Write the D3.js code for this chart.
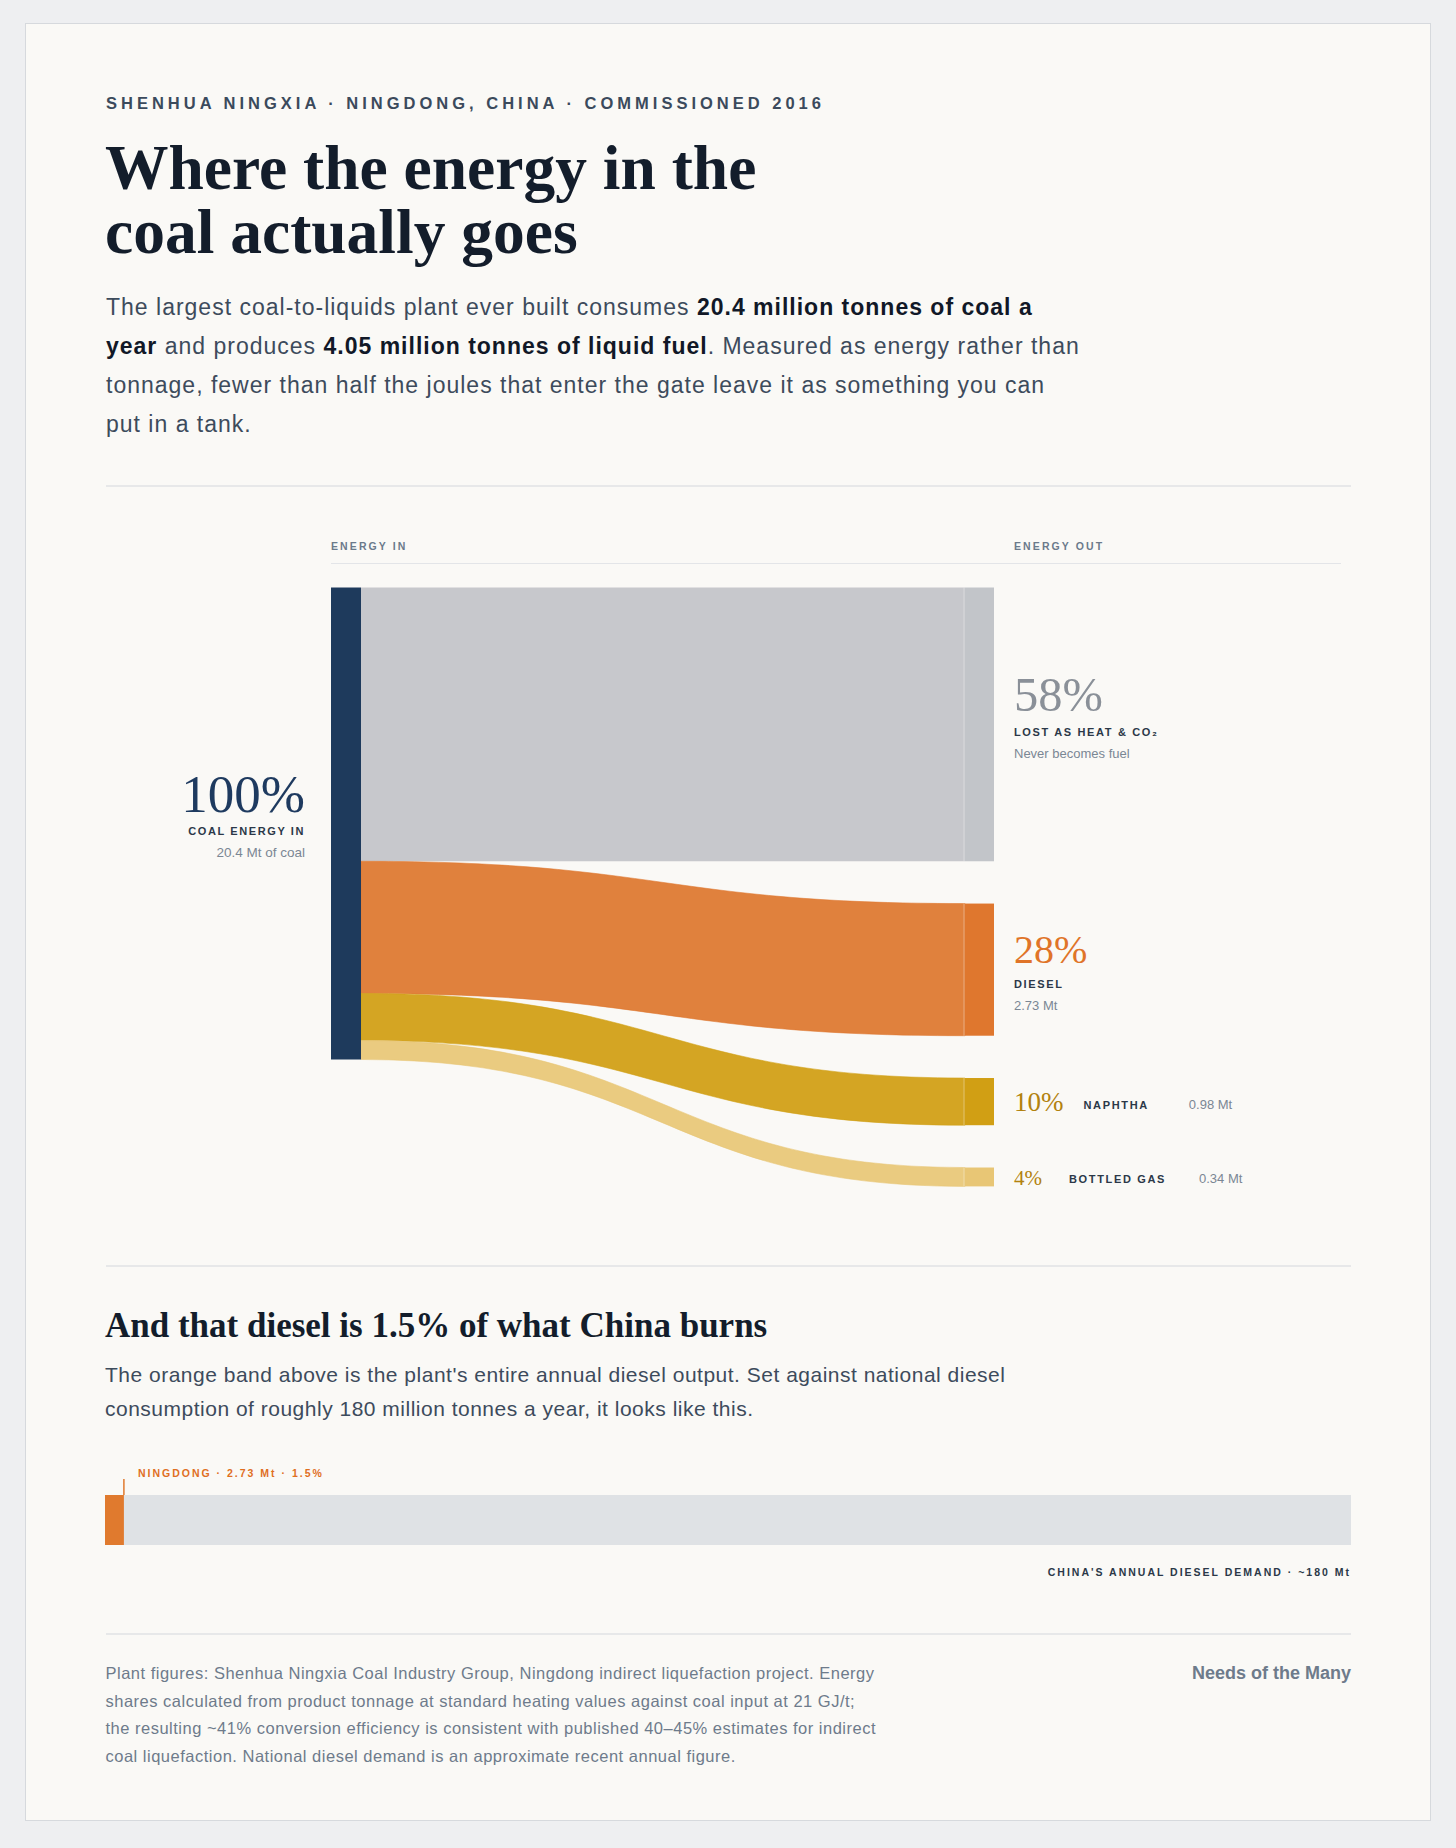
<!DOCTYPE html>
<html>
<head>
<meta charset="utf-8">
<script src="https://cdn.jsdelivr.net/npm/d3@7"></script>
<style>
  html, body { margin: 0; padding: 0; background: #eeeff1; }
  svg { display: block; }
  .sans { font-family: "Liberation Sans", Arial, sans-serif; }
  .serif { font-family: "Liberation Serif", "Times New Roman", serif; }
  .caps { font-weight: 700; letter-spacing: 2px; }
</style>
</head>
<body>
<svg id="chart"></svg>
<script>
let width = 1456;
let height = 1848;

// data
let flowKeys = ["lost", "diesel", "naphtha", "gas"];
let flowLabels = ["LOST AS HEAT & CO\u2082", "DIESEL", "NAPHTHA", "BOTTLED GAS"];
let flowShares = [58, 28, 10, 4];
let flowNotes = ["Never becomes fuel", "2.73 Mt", "0.98 Mt", "0.34 Mt"];
let coalShare = 100;
let coalNote = "20.4 Mt of coal";
let plantDiesel = 2.73;
let chinaDiesel = 180;

let flowColors = ["#c7c8cc", "#e0813d", "#d4a523", "#eacb80"];
let nodeColors = ["#c2c5c9", "#df772e", "#d19f14", "#e8c675"];
let pctColors = ["#8a9098", "#e07428", "#b2820e", "#b2820e"];
let pctSizes = [48.5, 40, 27, 21];

let introLines = [
  [["The largest coal-to-liquids plant ever built consumes ", 0], ["20.4 million tonnes of coal a", 1]],
  [["year", 1], [" and produces ", 0], ["4.05 million tonnes of liquid fuel", 1], [". Measured as energy rather than", 0]],
  [["tonnage, fewer than half the joules that enter the gate leave it as something you can", 0]],
  [["put in a tank.", 0]]
];
let compareLines = [
  "The orange band above is the plant's entire annual diesel output. Set against national diesel",
  "consumption of roughly 180 million tonnes a year, it looks like this."
];
let noteLines = [
  "Plant figures: Shenhua Ningxia Coal Industry Group, Ningdong indirect liquefaction project. Energy",
  "shares calculated from product tonnage at standard heating values against coal input at 21 GJ/t;",
  "the resulting ~41% conversion efficiency is consistent with published 40\u201345% estimates for indirect",
  "coal liquefaction. National diesel demand is an approximate recent annual figure."
];

let margin = { left: 106, right: 1351 };

let svg = d3.select("#chart")
  .attr("width", width)
  .attr("height", height)
  .attr("viewBox", `0 0 ${width} ${height}`);

// card
svg.append("rect")
  .attr("x", 25.5).attr("y", 23.5)
  .attr("width", 1405).attr("height", 1797)
  .attr("fill", "#faf9f6")
  .attr("stroke", "#d6d9dd");

// header
svg.append("text")
  .attr("class", "sans caps")
  .attr("x", margin.left).attr("y", 109)
  .style("font-size", "16.5px")
  .style("letter-spacing", "4px")
  .attr("fill", "#3b4a5c")
  .text("SHENHUA NINGXIA \u00b7 NINGDONG, CHINA \u00b7 COMMISSIONED 2016");

let title = svg.append("text")
  .attr("class", "serif")
  .attr("fill", "#131d2b")
  .style("font-size", "63.5px")
  .style("font-weight", 700);
["Where the energy in the", "coal actually goes"].forEach((t, i) => {
  title.append("tspan").attr("x", margin.left - 1).attr("y", 189 + i * 64).text(t);
});

introLines.forEach((line, i) => {
  let t = svg.append("text")
    .attr("class", "sans")
    .attr("x", margin.left).attr("y", 315 + i * 39)
    .style("font-size", "23px")
    .style("letter-spacing", "1px")
    .attr("fill", "#3d4b5c");
  line.forEach(([s, b]) => {
    t.append("tspan")
      .style("font-weight", b ? 700 : 400)
      .attr("fill", b ? "#111827" : "#3d4b5c")
      .text(s);
  });
});

function rule(y) {
  svg.append("line")
    .attr("x1", margin.left).attr("x2", margin.right)
    .attr("y1", y).attr("y2", y)
    .attr("stroke", "#d3d7dc").attr("stroke-width", 1.2);
}
rule(486);
rule(1266);
rule(1634);

// ---- sankey ----
let inX = 331, nodeW = 30, outX = 965, pad = 42.3;
let nodeTop = 587.5;

let h = d3.scaleLinear().domain([0, 100]).range([0, 472]);

let cum = d3.cumsum(flowShares);
let flows = flowShares.map((v, i) => {
  let start = i ? cum[i - 1] : 0;
  return {
    key: flowKeys[i],
    i: i,
    value: v,
    sy0: nodeTop + h(start),
    sy1: nodeTop + h(start + v),
    ty0: nodeTop + h(start) + i * pad,
    ty1: nodeTop + h(start + v) + i * pad
  };
});

svg.append("text")
  .attr("class", "sans caps")
  .attr("x", inX).attr("y", 550)
  .style("font-size", "10.5px").style("letter-spacing", "2.1px")
  .attr("fill", "#6b7a8b")
  .text("ENERGY IN");
svg.append("text")
  .attr("class", "sans caps")
  .attr("x", 1014).attr("y", 550)
  .style("font-size", "10.5px").style("letter-spacing", "2.1px")
  .attr("fill", "#6b7a8b")
  .text("ENERGY OUT");
svg.append("line")
  .attr("x1", inX).attr("x2", 1341)
  .attr("y1", 563.5).attr("y2", 563.5)
  .attr("stroke", "#e3e5e8");

let x0 = inX + nodeW, x1 = outX;
let xm = (x0 + x1) / 2;
function band(d) {
  let p = d3.path();
  p.moveTo(x0, d.sy0);
  p.bezierCurveTo(xm, d.sy0, xm, d.ty0, x1, d.ty0);
  p.lineTo(x1, d.ty1);
  p.bezierCurveTo(xm, d.ty1, xm, d.sy1, x0, d.sy1);
  p.closePath();
  return p.toString();
}

svg.append("g")
  .selectAll("path")
  .data(flows)
  .join("path")
  .attr("d", band)
  .attr("fill", d => flowColors[d.i])
  .attr("stroke", d => d.i ? nodeColors[d.i] : "none")
  .attr("stroke-width", 0.8)
  .attr("stroke-opacity", 0.7);

svg.append("rect")
  .attr("x", inX).attr("y", nodeTop)
  .attr("width", nodeW).attr("height", h(coalShare))
  .attr("fill", "#1e3a5c");

svg.append("g")
  .selectAll("rect")
  .data(flows)
  .join("rect")
  .attr("x", outX).attr("y", d => d.ty0)
  .attr("width", nodeW - 1).attr("height", d => d.ty1 - d.ty0)
  .attr("fill", d => nodeColors[d.i]);
svg.append("g")
  .selectAll("line")
  .data(flows)
  .join("line")
  .attr("x1", outX - 1).attr("x2", outX - 1)
  .attr("y1", d => d.ty0).attr("y2", d => d.ty1)
  .attr("stroke", "#ffffff").attr("stroke-opacity", 0.35);

// input label
let inCy = nodeTop + h(coalShare) / 2;
svg.append("text")
  .attr("class", "serif")
  .attr("x", 305).attr("y", inCy - 12)
  .attr("text-anchor", "end")
  .style("font-size", "53px")
  .attr("fill", "#1e3a5f")
  .text(coalShare + "%");
svg.append("text")
  .attr("class", "sans caps")
  .attr("x", 305).attr("y", inCy + 11)
  .attr("text-anchor", "end")
  .style("font-size", "11px").style("letter-spacing", "1.6px")
  .attr("fill", "#2b3848")
  .text("COAL ENERGY IN");
svg.append("text")
  .attr("class", "sans")
  .attr("x", 305).attr("y", inCy + 33)
  .attr("text-anchor", "end")
  .style("font-size", "13.5px")
  .attr("fill", "#7b8794")
  .text(coalNote);

// output labels
let labX = 1014;
flows.forEach((d, i) => {
  let cy = (d.ty0 + d.ty1) / 2;
  if (i < 2) {
    let base = cy + (i === 0 ? -13 : -7);
    svg.append("text")
      .attr("class", "serif")
      .attr("x", labX).attr("y", base)
      .style("font-size", pctSizes[i] + "px")
      .attr("fill", pctColors[i])
      .text(d.value + "%");
    svg.append("text")
      .attr("class", "sans caps")
      .attr("x", labX).attr("y", base + 25)
      .style("font-size", "11px").style("letter-spacing", "1.65px")
      .attr("fill", "#2b3848")
      .text(flowLabels[i]);
    svg.append("text")
      .attr("class", "sans")
      .attr("x", labX).attr("y", base + 47)
      .style("font-size", "13px")
      .attr("fill", "#7b8794")
      .text(flowNotes[i]);
  } else {
    let base = cy + (i === 2 ? 9 : 8);
    let pct = svg.append("text")
      .attr("class", "serif")
      .attr("x", labX).attr("y", base)
      .style("font-size", pctSizes[i] + "px")
      .attr("fill", pctColors[i])
      .text(d.value + "%");
    let pw = pct.node().getComputedTextLength();
    let lab = svg.append("text")
      .attr("class", "sans caps")
      .attr("x", labX + pw + (i === 2 ? 20 : 27)).attr("y", base - 2)
      .style("font-size", "11px").style("letter-spacing", "1.65px")
      .attr("fill", "#2b3848")
      .text(flowLabels[i]);
    let lx = +lab.attr("x") + lab.node().getComputedTextLength();
    svg.append("text")
      .attr("class", "sans")
      .attr("x", lx + (i === 2 ? 40 : 33)).attr("y", base - 2)
      .style("font-size", "13px")
      .attr("fill", "#7b8794")
      .text(flowNotes[i]);
  }
});

// ---- comparison ----
svg.append("text")
  .attr("class", "serif")
  .attr("x", margin.left - 1).attr("y", 1337)
  .style("font-size", "35px").style("font-weight", 700)
  .attr("fill", "#131d2b")
  .text("And that diesel is 1.5% of what China burns");

compareLines.forEach((s, i) => {
  svg.append("text")
    .attr("class", "sans")
    .attr("x", margin.left - 1).attr("y", 1382 + i * 33.5)
    .style("font-size", "21px")
    .style("letter-spacing", "0.5px")
    .attr("fill", "#3d4b5c")
    .text(s);
});

let x = d3.scaleLinear()
  .domain([0, chinaDiesel])
  .range([margin.left - 1, margin.right]);

let barY = 1495, barH = 50;
svg.append("rect")
  .attr("x", x(0)).attr("y", barY)
  .attr("width", x(chinaDiesel) - x(0)).attr("height", barH)
  .attr("fill", "#dfe2e5");
svg.append("rect")
  .attr("x", x(0)).attr("y", barY)
  .attr("width", x(plantDiesel) - x(0)).attr("height", barH)
  .attr("fill", "#e07a2e");
svg.append("line")
  .attr("x1", x(plantDiesel)).attr("x2", x(plantDiesel))
  .attr("y1", barY - 16).attr("y2", barY)
  .attr("stroke", "#e07a2e").attr("stroke-width", 1.5);
svg.append("text")
  .attr("class", "sans caps")
  .attr("x", x(plantDiesel) + 14).attr("y", 1477)
  .style("font-size", "10.5px").style("letter-spacing", "2px")
  .attr("fill", "#e06f1f")
  .text(`NINGDONG \u00b7 ${plantDiesel} Mt \u00b7 ${d3.format(".1f")(plantDiesel / chinaDiesel * 100)}%`);
svg.append("text")
  .attr("class", "sans caps")
  .attr("x", x(chinaDiesel)).attr("y", 1576)
  .attr("text-anchor", "end")
  .style("font-size", "10.5px").style("letter-spacing", "2px")
  .attr("fill", "#2b3848")
  .text(`CHINA'S ANNUAL DIESEL DEMAND \u00b7 ~${chinaDiesel} Mt`);

// ---- footer ----
noteLines.forEach((s, i) => {
  svg.append("text")
    .attr("class", "sans")
    .attr("x", margin.left - 0.5).attr("y", 1679 + i * 27.5)
    .style("font-size", "16.5px")
    .style("letter-spacing", "0.5px")
    .attr("fill", "#6e7b8b")
    .text(s);
});
svg.append("text")
  .attr("class", "sans")
  .attr("x", margin.right).attr("y", 1679)
  .attr("text-anchor", "end")
  .style("font-size", "18px").style("font-weight", 700)
  .attr("fill", "#6e7b8b")
  .text("Needs of the Many");
</script>
</body>
</html>
